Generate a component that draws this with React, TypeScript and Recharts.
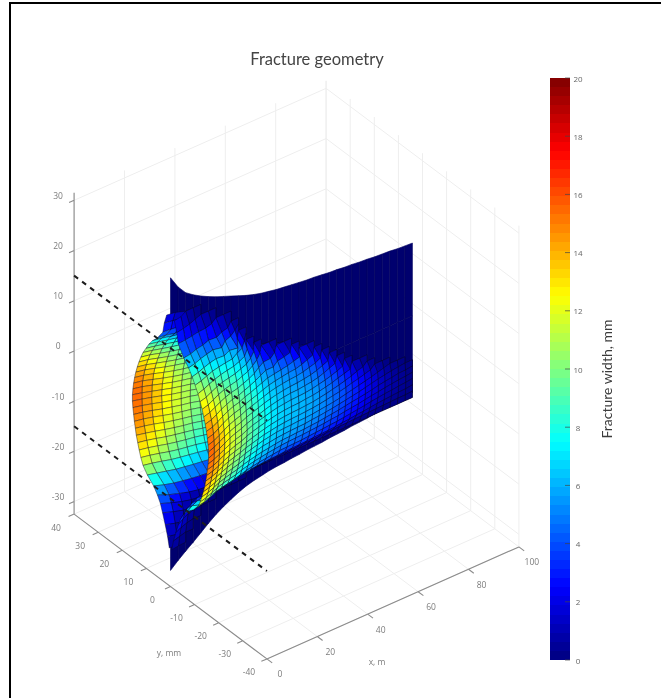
import { Bar, BarChart, Scatter, ScatterChart, XAxis, YAxis } from "recharts"

const xTicks = [0, 20, 40, 60, 80, 100]
const yTicks = [-40, -30, -20, -10, 0, 10, 20, 30, 40]
const zTicks = [-30, -20, -10, 0, 10, 20, 30]
const barTicks = [0, 2, 4, 6, 8, 10, 12, 14, 16, 18, 20]
const dashedZ = [15, -15]

// mesh stations along the fracture, m
const stationX = [0, 3, 6, 9, 12, 15, 18, 21, 24, 27, 30, 33, 36, 39, 42, 45, 48, 51, 54, 57, 60, 63, 66, 69, 72, 75, 78, 81, 84, 87, 90, 93, 96]
const sheetTop = [29, 26.5, 24.7, 23.6, 22.7, 21.9, 21.2, 20.6, 20, 19.4, 18.8, 18.3, 17.9, 17.6, 17.3, 17.1, 16.9, 16.7, 16.5, 16.4, 16.2, 16, 15.9, 15.7, 15.6, 15.4, 15.3, 15.1, 15, 14.9, 14.7, 14.6, 14.5]
const sheetBottom = [-29.3, -28, -26.8, -25.7, -24.5, -23.3, -22.2, -21.3, -20.5, -19.8, -19.2, -18.8, -18.5, -18.2, -18, -17.9, -17.7, -17.6, -17.4, -17.3, -17.2, -17, -16.9, -16.8, -16.6, -16.5, -16.4, -16.2, -16, -15.9, -15.7, -15.5, -15.3]
const openTop = [15, 15, 15, 15, 15, 15, 15]
const openBottom = [-15, -15, -15, -15, -15, -15, -15]

const rowZ = [21, 19, 17, 15, 13.75, 12.5, 11.25, 10, 8.75, 7.5, 6.25, 5, 3.75, 2.5, 1.25, 0, -1.25, -2.5, -3.75, -5, -6.25, -7.5, -8.75, -10, -11.25, -12.5, -13.75, -15, -16.25, -17.5, -19, -21, -23, -25]

const widthRows = [
  [1.6, 1.2],
  [2.6, 2.2, 1.6, 0.8],
  [3.2, 3, 2.6, 2.2, 2, 1.4],
  [5.5, 5.2, 4.4, 4, 3.2, 3.4, 2.4, 1.8],
  [7.5, 7, 6.2, 5.6, 5, 5.6, 3.8, 3, 1.6],
  [9, 8.4, 7.6, 6.9, 6.4, 6.6, 5.6, 6, 2.6],
  [10.2, 9.6, 8.8, 8, 7.5, 7.1, 6.8, 5.6, 4.6, 2.4],
  [11.4, 10.7, 9.8, 9, 8.3, 7.8, 7.4, 6.6, 5.6, 3.6],
  [12.3, 11.7, 10.7, 9.8, 9, 8.5, 8, 7.2, 6.4, 5, 3.2],
  [13.1, 12.5, 11.5, 10.5, 9.7, 9.1, 8.6, 7.8, 7, 5.8, 4.4, 2.6],
  [13.8, 13.2, 12.2, 11.2, 10.3, 9.6, 9.1, 8.3, 7.5, 6.5, 5.2, 4, 3.8, 2.4],
  [14.4, 13.8, 12.8, 11.7, 10.8, 10, 9.5, 8.7, 7.9, 7, 6, 5, 5, 3.6, 3.2, 2.6],
  [14.9, 14.3, 13.3, 12.2, 11.2, 10.4, 9.8, 8.9, 8.2, 7.4, 6.6, 5.8, 5.4, 5, 4.6, 4, 3.4],
  [15.3, 14.7, 13.6, 12.5, 11.5, 10.7, 10.1, 9.2, 8.5, 7.8, 7, 6.3, 5.8, 5.4, 5, 4.8, 4.2, 3.4, 2.6],
  [15.6, 14.9, 13.9, 12.8, 11.8, 11, 10.3, 9.4, 8.7, 8, 7.3, 6.6, 6.1, 5.7, 5.4, 5.2, 4.8, 4.2, 3.6, 2.6],
  [15.8, 15, 14, 13, 12, 11.2, 10.5, 9.6, 8.9, 8.2, 7.5, 6.9, 6.4, 6, 5.7, 5.5, 5.2, 4.8, 4.2, 3.4, 2.6],
  [15.8, 15, 14.1, 13.1, 12.1, 11.3, 10.6, 9.7, 9, 8.4, 7.7, 7.1, 6.6, 6.2, 5.9, 5.8, 5.5, 5.2, 4.7, 4, 3.2, 2.4],
  [15.6, 14.9, 14, 13, 12.1, 11.3, 10.7, 9.8, 9, 8.4, 7.8, 7.2, 6.7, 6.4, 6.1, 6, 5.8, 5.5, 5, 4.5, 3.9, 3.2, 2.4],
  [15.3, 14.7, 13.8, 12.8, 12, 11.2, 10.6, 9.7, 9, 8.4, 7.8, 7.3, 6.8, 6.5, 6.3, 6.2, 5.9, 5.7, 5.3, 4.8, 4.3, 3.6, 3, 2.4],
  [15, 14.4, 13.6, 12.6, 11.7, 11, 10.4, 9.6, 8.9, 8.3, 7.7, 7.2, 6.8, 6.5, 6.3, 6.2, 6, 5.8, 5.4, 5, 4.5, 4, 3.4, 2.8, 2, 1.4],
  [14.6, 14, 13.2, 12.2, 11.4, 10.7, 10.1, 9.3, 8.7, 8.1, 7.5, 7.1, 6.7, 6.4, 6.2, 6.1, 5.9, 5.7, 5.4, 5, 4.6, 4.2, 3.7, 3.1, 2.6, 2, 1.4],
  [14.2, 13.5, 12.7, 11.8, 11, 10.3, 9.8, 9, 8.4, 7.8, 7.2, 6.8, 6.4, 6.2, 6.1, 5.9, 5.8, 5.6, 5.3, 5, 4.7, 4.3, 3.8, 3.3, 2.8, 2.3, 1.8, 1.2, 0.6],
  [13.6, 13, 12.2, 11.3, 10.6, 10, 9.4, 8.6, 8, 7.5, 6.9, 6.6, 6.2, 6, 5.8, 5.7, 5.6, 5.3, 5.1, 4.8, 4.5, 4.1, 3.7, 3.3, 2.9, 2.4, 1.9, 1.4, 1, 0.6, 0.3],
  [13, 12.4, 11.6, 10.7, 10, 9.4, 8.9, 8.2, 7.6, 7.1, 6.6, 6.3, 5.9, 5.6, 5.5, 5.3, 5.2, 5, 4.8, 4.5, 4.2, 3.9, 3.5, 3.1, 2.8, 2.4, 2, 1.5, 1.1, 0.8, 0.4, 0.3],
  [12.3, 11.7, 10.9, 10, 9.3, 8.8, 8.3, 7.6, 7, 6.5, 6.1, 5.7, 5.4, 5.1, 4.9, 4.8, 4.7, 4.5, 4.3, 4.1, 3.8, 3.6, 3.2, 2.9, 2.6, 2.2, 1.8, 1.5, 1.1, 0.8, 0.5, 0.3],
  [11.4, 10.8, 10, 9.1, 8.5, 8, 7.5, 6.9, 6.3, 5.8, 5.4, 5.1, 4.8, 4.5, 4.4, 4.3, 4.2, 4, 3.8, 3.6, 3.4, 3.2, 2.9, 2.6, 2.3, 2, 1.6, 1.3, 1, 0.8, 0.5, 0.3],
  [9.6, 8.8, 8, 7.2, 6.7, 6.2, 5.8, 5.3, 4.9, 4.6, 4.2, 4, 3.8, 3.7, 3.5, 3.4, 3.3, 3.2, 3, 2.9, 2.8, 2.6, 2.3, 2.1, 1.8, 1.6, 1.3, 1, 0.8, 0.6, 0.4, 0.3],
  [7, 5.8, 4.9, 4.3, 3.8, 3.4, 3.1, 2.8, 2.6, 2.4, 2.2, 2.1, 2, 1.9, 1.8, 1.7, 1.6, 1.5, 1.4, 1.3, 1.2, 1.1, 1, 0.9, 0.8, 0.7, 0.6, 0.5, 0.4, 0.3, 0.2, 0.2],
  [5.4, 3.8, 2.6, 1.6, 1, 0.7, 0.5, 0.4, 0.3, 0.2],
  [4.2, 2.8, 1.6, 0.8, 0.4, 0.2],
  [3.3, 2, 1, 0.4],
  [2.2, 1.2, 0.5],
  [1.2, 0.6],
  [0.5, 0.2],
]

const Z_FLOOR = -32.5
const Z_TOP = 31.5

// fixed MATLAB style view, turns x m / y mm / z m into plane coordinates
function project(x: number, y: number, z: number) {
  return {
    px: 170.5 + 2.52 * x - 2.41 * y,
    py: 586.5 - 1.12 * x - 1.81 * y - 5.02 * (z - Z_FLOOR),
  }
}

function jet(v: number) {
  const t = Math.max(0, Math.min(1, v / 20))
  const c = (n: number) => Math.round(255 * Math.max(0, Math.min(1, n)))
  const r = c(Math.min(4 * t - 1.5, -4 * t + 4.5))
  const g = c(Math.min(4 * t - 0.5, -4 * t + 3.5))
  const b = c(Math.min(4 * t + 0.5, -4 * t + 2.5))
  return `rgb(${r},${g},${b})`
}

type Pt = { px: number; py: number; fill?: string }

function wallCells(side: number) {
  const out: Pt[] = []
  const w = (r: number, c: number) => widthRows[r][c] ?? 0
  for (let c = stationX.length - 2; c >= 0; c--) {
    for (let r = 0; r < rowZ.length - 1; r++) {
      const corners = [[r, c], [r, c + 1], [r + 1, c + 1], [r + 1, c]]
      const vals = corners.map(([a, b]) => w(a, b))
      if (Math.max(...vals) <= 0) continue
      const mean = vals.reduce((s, v) => s + v, 0) / 4
      corners.forEach(([a, b], i) => {
        out.push({ ...project(stationX[b], side * vals[i], rowZ[a]), fill: jet(mean) })
      })
    }
  }
  return out
}

function stripCells(upper: number[], lower: number[]) {
  const out: Pt[] = []
  for (let c = 0; c < stationX.length - 1; c++) {
    out.push(project(stationX[c], 0, upper[c] ?? 0))
    out.push(project(stationX[c + 1], 0, upper[c + 1] ?? 0))
    out.push(project(stationX[c + 1], 0, lower[c + 1] ?? 0))
    out.push(project(stationX[c], 0, lower[c] ?? 0))
  }
  return out
}

const backWall = wallCells(1)
const frontWall = wallCells(-1)
const upperStrip = stripCells(sheetTop, openTop)
const lowerStrip = stripCells(openBottom, sheetBottom)

const gridPts: Pt[] = []
const seg = (list: Pt[], a: Pt, b: Pt) => list.push(a, b)
zTicks.forEach((z) => {
  seg(gridPts, project(0, 40, z), project(100, 40, z))
  seg(gridPts, project(100, 40, z), project(100, -40, z))
})
xTicks.forEach((x) => {
  seg(gridPts, project(x, -40, Z_FLOOR), project(x, 40, Z_FLOOR))
  seg(gridPts, project(x, 40, Z_FLOOR), project(x, 40, Z_TOP))
})
yTicks.forEach((y) => {
  seg(gridPts, project(0, y, Z_FLOOR), project(100, y, Z_FLOOR))
  seg(gridPts, project(100, y, Z_FLOOR), project(100, y, Z_TOP))
})

const axisPts: Pt[] = []
seg(axisPts, project(0, 40, Z_FLOOR), project(0, 40, Z_TOP))
seg(axisPts, project(0, 40, Z_FLOOR), project(0, -40, Z_FLOOR))
seg(axisPts, project(0, -40, Z_FLOOR), project(100, -40, Z_FLOOR))
xTicks.forEach((x) => seg(axisPts, project(x, -40, Z_FLOOR), project(x, -42.2, Z_FLOOR)))
yTicks.forEach((y) => seg(axisPts, project(0, y, Z_FLOOR), project(-2.2, y, Z_FLOOR)))
zTicks.forEach((z) => seg(axisPts, project(0, 40, z), project(-2, 40, z)))

const shift = (p: Pt, dx: number, dy: number) => ({ px: p.px + dx, py: p.py + dy })
const tickLabels = [
  ...xTicks.map((x) => ({ ...shift(project(x, -40, Z_FLOOR), 13, 15), label: String(x) })),
  ...yTicks.map((y) => ({ ...shift(project(0, y, Z_FLOOR), -18, 13), label: String(y) })),
  ...zTicks.map((z) => ({ ...shift(project(0, 40, z), -16, -5), label: String(z) })),
  { px: 169, py: 652, label: "y, mm" },
  { px: 377, py: 661, label: "x, m" },
]

const barLevels = Array.from({ length: 64 }, (_, i) => `l${i}`)
const barRow = [Object.fromEntries([["name", "width"], ...barLevels.map((k) => [k, 20 / 64])])]

const noDot = () => <g />

const drawSegments = (stroke: string, strokeWidth: number) => (props: any) => {
  let d = ""
  for (let i = 0; i + 1 < props.points.length; i += 2) {
    const a = props.points[i]
    const b = props.points[i + 1]
    d += `M${a.x} ${a.y}L${b.x} ${b.y}`
  }
  return <path d={d} fill="none" stroke={stroke} strokeWidth={strokeWidth} />
}

const drawCells = (cells: Pt[], stroke: string, strokeWidth: number) => (props: any) => {
  const out = []
  for (let i = 0; i + 3 < props.points.length; i += 4) {
    const p = props.points.slice(i, i + 4)
    out.push(
      <polygon
        key={i}
        points={p.map((q: any) => `${q.x},${q.y}`).join(" ")}
        fill={cells[i].fill ?? "#00006e"}
        stroke={stroke}
        strokeWidth={strokeWidth}
        strokeLinejoin="round"
      />
    )
  }
  return <g>{out}</g>
}

const tickText = ({ cx, cy, payload }: any) => (
  <text x={cx} y={cy} textAnchor="middle" dominantBaseline="central" fontFamily="'Open Sans', sans-serif" fontSize={8.5} fill="#7c7c7c">
    {payload.label}
  </text>
)

const titleText = ({ cx, cy }: any) => (
  <text x={cx} y={cy} textAnchor="middle" dominantBaseline="central" fontFamily="Lato, sans-serif" fontSize={16.5} fill="#444">
    Fracture geometry
  </text>
)

const barTitle = ({ cx, cy }: any) => (
  <text x={cx} y={cy} textAnchor="middle" dominantBaseline="central" transform={`rotate(-90 ${cx} ${cy})`} fontFamily="Lato, sans-serif" fontSize={14} fill="#3c3c3c">
    Fracture width, mm
  </text>
)

const barTick = ({ x, y, payload }: any) => (
  <g>
    <line x1={x - 5} x2={x} y1={y} y2={y} stroke="#444" strokeWidth={0.7} />
    <text x={x + 8} y={y} textAnchor="middle" dominantBaseline="central" fontFamily="'Open Sans', sans-serif" fontSize={8} fill="#666">
      {payload.value}
    </text>
  </g>
)

export default function App() {
  return (
    <div style={{ position: "absolute", left: 0, top: 0, width: 661, height: 698, background: "#fff", overflow: "hidden" }}>
      <div style={{ position: "absolute", left: 0, top: 0, filter: "blur(0.5px)" }}>
        <ScatterChart width={661} height={698} margin={{ top: 0, right: 0, bottom: 0, left: 0 }}>
          <XAxis type="number" dataKey="px" domain={[0, 661]} hide />
          <YAxis type="number" dataKey="py" domain={[0, 698]} reversed hide />
          <Scatter data={gridPts} line={drawSegments("#eeeeee", 1)} shape={noDot} isAnimationActive={false} />
          <Scatter data={axisPts} line={drawSegments("#8c8c8c", 1.1)} shape={noDot} isAnimationActive={false} />
          <Scatter data={tickLabels} shape={tickText} isAnimationActive={false} />
          <Scatter data={[{ px: 317, py: 59 }]} shape={titleText} isAnimationActive={false} />
          <Scatter data={[{ px: 606, py: 379 }]} shape={barTitle} isAnimationActive={false} />
          <Scatter data={upperStrip} line={drawCells(upperStrip, "#00005e", 0.6)} shape={noDot} isAnimationActive={false} />
          <Scatter data={lowerStrip} line={drawCells(lowerStrip, "#00005e", 0.6)} shape={noDot} isAnimationActive={false} />
          <Scatter data={backWall} line={drawCells(backWall, "rgba(10,10,30,0.7)", 0.6)} shape={noDot} isAnimationActive={false} />
          <Scatter data={frontWall} line={drawCells(frontWall, "rgba(10,10,30,0.7)", 0.6)} shape={noDot} isAnimationActive={false} />
          {dashedZ.map((z) => (
            <Scatter
              key={z}
              data={[project(0, 40, z), project(0, -40, z)]}
              line={{ stroke: "#1c1c1c", strokeWidth: 2, strokeDasharray: "5 5" }}
              shape={noDot}
              isAnimationActive={false}
            />
          ))}
        </ScatterChart>
      </div>
      <div style={{ position: "absolute", left: 550, top: 73, filter: "blur(0.3px)" }}>
        <BarChart width={50} height={592} data={barRow} margin={{ top: 5, right: 0, bottom: 5, left: 0 }} barCategoryGap={0} barGap={0}>
          <XAxis dataKey="name" hide />
          <YAxis orientation="right" width={30} domain={[0, 20]} ticks={barTicks} interval={0} axisLine={false} tickLine={false} tickSize={0} tickMargin={0} tick={barTick} />
          {barLevels.map((k, i) => (
            <Bar key={k} dataKey={k} stackId="bar" fill={jet(((i + 0.5) / 64) * 20)} shapeRendering="crispEdges" isAnimationActive={false} />
          ))}
        </BarChart>
      </div>
      <div style={{ position: "absolute", left: 9, top: 2, right: 0, bottom: 0, borderLeft: "2px solid #000", borderTop: "2px solid #000" }} />
    </div>
  )
}
